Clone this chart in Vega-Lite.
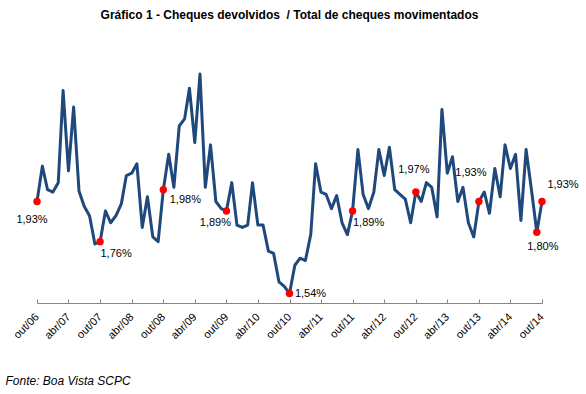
{
  "$schema": "https://vega.github.io/schema/vega-lite/v6.json",
  "width": 505,
  "height": 236,
  "autosize": {"type": "none"},
  "padding": {"left": 37, "top": 67, "right": 44, "bottom": 91},
  "background": "white",
  "config": {
    "view": {"stroke": null},
    "font": "Liberation Sans"
  },
  "title": {
    "text": "Gráfico 1 - Cheques devolvidos \u00a0/ Total de cheques movimentados",
    "font": "Liberation Sans",
    "fontSize": 12,
    "fontWeight": "bold",
    "color": "#000000",
    "anchor": "middle",
    "offset": 45
  },
  "datasets": {
    "serie": [
      {"data": "2006-10-01", "valor": 1.93},
      {"data": "2006-11-01", "valor": 2.08},
      {"data": "2006-12-01", "valor": 1.98},
      {"data": "2007-01-01", "valor": 1.97},
      {"data": "2007-02-01", "valor": 2.01},
      {"data": "2007-03-01", "valor": 2.40},
      {"data": "2007-04-01", "valor": 2.06},
      {"data": "2007-05-01", "valor": 2.33},
      {"data": "2007-06-01", "valor": 1.975},
      {"data": "2007-07-01", "valor": 1.91},
      {"data": "2007-08-01", "valor": 1.87},
      {"data": "2007-09-01", "valor": 1.75},
      {"data": "2007-10-01", "valor": 1.76},
      {"data": "2007-11-01", "valor": 1.89},
      {"data": "2007-12-01", "valor": 1.84},
      {"data": "2008-01-01", "valor": 1.87},
      {"data": "2008-02-01", "valor": 1.92},
      {"data": "2008-03-01", "valor": 2.04},
      {"data": "2008-04-01", "valor": 2.05},
      {"data": "2008-05-01", "valor": 2.09},
      {"data": "2008-06-01", "valor": 1.82},
      {"data": "2008-07-01", "valor": 1.95},
      {"data": "2008-08-01", "valor": 1.78},
      {"data": "2008-09-01", "valor": 1.76},
      {"data": "2008-10-01", "valor": 1.98},
      {"data": "2008-11-01", "valor": 2.13},
      {"data": "2008-12-01", "valor": 1.99},
      {"data": "2009-01-01", "valor": 2.25},
      {"data": "2009-02-01", "valor": 2.28},
      {"data": "2009-03-01", "valor": 2.41},
      {"data": "2009-04-01", "valor": 2.18},
      {"data": "2009-05-01", "valor": 2.47},
      {"data": "2009-06-01", "valor": 1.99},
      {"data": "2009-07-01", "valor": 2.17},
      {"data": "2009-08-01", "valor": 1.93},
      {"data": "2009-09-01", "valor": 1.90},
      {"data": "2009-10-01", "valor": 1.89},
      {"data": "2009-11-01", "valor": 2.01},
      {"data": "2009-12-01", "valor": 1.83},
      {"data": "2010-01-01", "valor": 1.82},
      {"data": "2010-02-01", "valor": 1.83},
      {"data": "2010-03-01", "valor": 2.01},
      {"data": "2010-04-01", "valor": 1.83},
      {"data": "2010-05-01", "valor": 1.83},
      {"data": "2010-06-01", "valor": 1.72},
      {"data": "2010-07-01", "valor": 1.71},
      {"data": "2010-08-01", "valor": 1.59},
      {"data": "2010-09-01", "valor": 1.57},
      {"data": "2010-10-01", "valor": 1.54},
      {"data": "2010-11-01", "valor": 1.66},
      {"data": "2010-12-01", "valor": 1.69},
      {"data": "2011-01-01", "valor": 1.68},
      {"data": "2011-02-01", "valor": 1.79},
      {"data": "2011-03-01", "valor": 2.09},
      {"data": "2011-04-01", "valor": 1.97},
      {"data": "2011-05-01", "valor": 1.96},
      {"data": "2011-06-01", "valor": 1.90},
      {"data": "2011-07-01", "valor": 1.955},
      {"data": "2011-08-01", "valor": 1.84},
      {"data": "2011-09-01", "valor": 1.79},
      {"data": "2011-10-01", "valor": 1.89},
      {"data": "2011-11-01", "valor": 2.15},
      {"data": "2011-12-01", "valor": 1.96},
      {"data": "2012-01-01", "valor": 1.90},
      {"data": "2012-02-01", "valor": 1.97},
      {"data": "2012-03-01", "valor": 2.15},
      {"data": "2012-04-01", "valor": 2.04},
      {"data": "2012-05-01", "valor": 2.16},
      {"data": "2012-06-01", "valor": 1.98},
      {"data": "2012-07-01", "valor": 1.96},
      {"data": "2012-08-01", "valor": 1.94},
      {"data": "2012-09-01", "valor": 1.84},
      {"data": "2012-10-01", "valor": 1.97},
      {"data": "2012-11-01", "valor": 1.93},
      {"data": "2012-12-01", "valor": 2.01},
      {"data": "2013-01-01", "valor": 1.99},
      {"data": "2013-02-01", "valor": 1.865},
      {"data": "2013-03-01", "valor": 2.32},
      {"data": "2013-04-01", "valor": 2.05},
      {"data": "2013-05-01", "valor": 2.12},
      {"data": "2013-06-01", "valor": 1.93},
      {"data": "2013-07-01", "valor": 1.99},
      {"data": "2013-08-01", "valor": 1.84},
      {"data": "2013-09-01", "valor": 1.78},
      {"data": "2013-10-01", "valor": 1.93},
      {"data": "2013-11-01", "valor": 1.97},
      {"data": "2013-12-01", "valor": 1.88},
      {"data": "2014-01-01", "valor": 2.07},
      {"data": "2014-02-01", "valor": 1.95},
      {"data": "2014-03-01", "valor": 2.17},
      {"data": "2014-04-01", "valor": 2.07},
      {"data": "2014-05-01", "valor": 2.13},
      {"data": "2014-06-01", "valor": 1.85},
      {"data": "2014-07-01", "valor": 2.15},
      {"data": "2014-08-01", "valor": 1.98},
      {"data": "2014-09-01", "valor": 1.80},
      {"data": "2014-10-01", "valor": 1.93}
    ],
    "destaques": [
      {"data": "2006-10-01", "mes": "out/06", "valor": 1.93, "rotulo": "1,93%"},
      {"data": "2007-10-01", "mes": "out/07", "valor": 1.76, "rotulo": "1,76%"},
      {"data": "2008-10-01", "mes": "out/08", "valor": 1.98, "rotulo": "1,98%"},
      {"data": "2009-10-01", "mes": "out/09", "valor": 1.89, "rotulo": "1,89%"},
      {"data": "2010-10-01", "mes": "out/10", "valor": 1.54, "rotulo": "1,54%"},
      {"data": "2011-10-01", "mes": "out/11", "valor": 1.89, "rotulo": "1,89%"},
      {"data": "2012-10-01", "mes": "out/12", "valor": 1.97, "rotulo": "1,97%"},
      {"data": "2013-10-01", "mes": "out/13", "valor": 1.93, "rotulo": "1,93%"},
      {"data": "2014-09-01", "mes": "set/14", "valor": 1.80, "rotulo": "1,80%"},
      {"data": "2014-10-01", "mes": "out/14", "valor": 1.93, "rotulo": "1,93%"}
    ]
  },
  "encoding": {
    "x": {
      "field": "data",
      "type": "temporal",
      "scale": {
        "type": "utc",
        "domain": [
          {"year": 2006, "month": 10, "date": 1, "utc": true},
          {"year": 2014, "month": 10, "date": 1, "utc": true}
        ]
      },
      "axis": {
        "values": [
          {"year": 2006, "month": 10, "date": 1, "utc": true},
          {"year": 2007, "month": 4, "date": 1, "utc": true},
          {"year": 2007, "month": 10, "date": 1, "utc": true},
          {"year": 2008, "month": 4, "date": 1, "utc": true},
          {"year": 2008, "month": 10, "date": 1, "utc": true},
          {"year": 2009, "month": 4, "date": 1, "utc": true},
          {"year": 2009, "month": 10, "date": 1, "utc": true},
          {"year": 2010, "month": 4, "date": 1, "utc": true},
          {"year": 2010, "month": 10, "date": 1, "utc": true},
          {"year": 2011, "month": 4, "date": 1, "utc": true},
          {"year": 2011, "month": 10, "date": 1, "utc": true},
          {"year": 2012, "month": 4, "date": 1, "utc": true},
          {"year": 2012, "month": 10, "date": 1, "utc": true},
          {"year": 2013, "month": 4, "date": 1, "utc": true},
          {"year": 2013, "month": 10, "date": 1, "utc": true},
          {"year": 2014, "month": 4, "date": 1, "utc": true},
          {"year": 2014, "month": 10, "date": 1, "utc": true}
        ],
        "labelExpr": "['jan','fev','mar','abr','mai','jun','jul','ago','set','out','nov','dez'][utcmonth(datum.value)] + '/' + utcFormat(datum.value, '%y')",
        "labelAngle": -45,
        "labelAlign": "right",
        "labelBaseline": "middle",
        "labelFont": "Liberation Sans",
        "labelFontSize": 11,
        "labelColor": "#000000",
        "labelPadding": 16,
        "labelOverlap": false,
        "labelFlush": false,
        "grid": false,
        "domainColor": "#868686",
        "domainWidth": 1,
        "tickColor": "#868686",
        "tickSize": -4,
        "tickWidth": 1,
        "title": "Fonte: Boa Vista SCPC",
        "titleFont": "Liberation Sans",
        "titleFontSize": 12,
        "titleFontStyle": "italic",
        "titleFontWeight": "normal",
        "titleColor": "#000000",
        "titleAnchor": "start",
        "titleAlign": "left",
        "titleBaseline": "alphabetic",
        "titleX": -32,
        "titleY": 81
      }
    },
    "y": {
      "field": "valor",
      "type": "quantitative",
      "scale": {"domain": [1.5, 2.5], "zero": false, "nice": false},
      "axis": null
    }
  },
  "layer": [
    {
      "data": {"name": "serie"},
      "mark": {"type": "line", "color": "#1F497D", "strokeWidth": 3, "strokeJoin": "round"}
    },
    {
      "data": {"name": "destaques"},
      "mark": {"type": "circle", "color": "#FF0000", "opacity": 1, "size": 55}
    },
    {
      "data": {"name": "destaques"},
      "transform": [{"filter": {"field": "mes", "equal": "out/06"}}],
      "mark": {"type": "text", "fontSize": 11, "color": "#000000", "dx": -5, "dy": 18},
      "encoding": {"text": {"field": "rotulo"}}
    },
    {
      "data": {"name": "destaques"},
      "transform": [{"filter": {"field": "mes", "oneOf": ["out/07", "out/11"]}}],
      "mark": {"type": "text", "fontSize": 11, "color": "#000000", "dx": 16, "dy": 12},
      "encoding": {"text": {"field": "rotulo"}}
    },
    {
      "data": {"name": "destaques"},
      "transform": [{"filter": {"field": "mes", "equal": "out/08"}}],
      "mark": {"type": "text", "fontSize": 11, "color": "#000000", "dx": 22, "dy": 10},
      "encoding": {"text": {"field": "rotulo"}}
    },
    {
      "data": {"name": "destaques"},
      "transform": [{"filter": {"field": "mes", "equal": "out/09"}}],
      "mark": {"type": "text", "fontSize": 11, "color": "#000000", "dx": -11, "dy": 12},
      "encoding": {"text": {"field": "rotulo"}}
    },
    {
      "data": {"name": "destaques"},
      "transform": [{"filter": {"field": "mes", "equal": "out/10"}}],
      "mark": {"type": "text", "fontSize": 11, "color": "#000000", "dx": 21, "dy": 0},
      "encoding": {"text": {"field": "rotulo"}}
    },
    {
      "data": {"name": "destaques"},
      "transform": [{"filter": {"field": "mes", "equal": "out/12"}}],
      "mark": {"type": "text", "fontSize": 11, "color": "#000000", "dx": -2, "dy": -22},
      "encoding": {"text": {"field": "rotulo"}}
    },
    {
      "data": {"name": "destaques"},
      "transform": [{"filter": {"field": "mes", "equal": "out/13"}}],
      "mark": {"type": "text", "fontSize": 11, "color": "#000000", "dx": -8, "dy": -29},
      "encoding": {"text": {"field": "rotulo"}}
    },
    {
      "data": {"name": "destaques"},
      "transform": [{"filter": {"field": "mes", "equal": "set/14"}}],
      "mark": {"type": "text", "fontSize": 11, "color": "#000000", "dx": 6, "dy": 15},
      "encoding": {"text": {"field": "rotulo"}}
    },
    {
      "data": {"name": "destaques"},
      "transform": [{"filter": {"field": "mes", "equal": "out/14"}}],
      "mark": {"type": "text", "fontSize": 11, "color": "#000000", "dx": 21, "dy": -17},
      "encoding": {"text": {"field": "rotulo"}}
    }
  ]
}
